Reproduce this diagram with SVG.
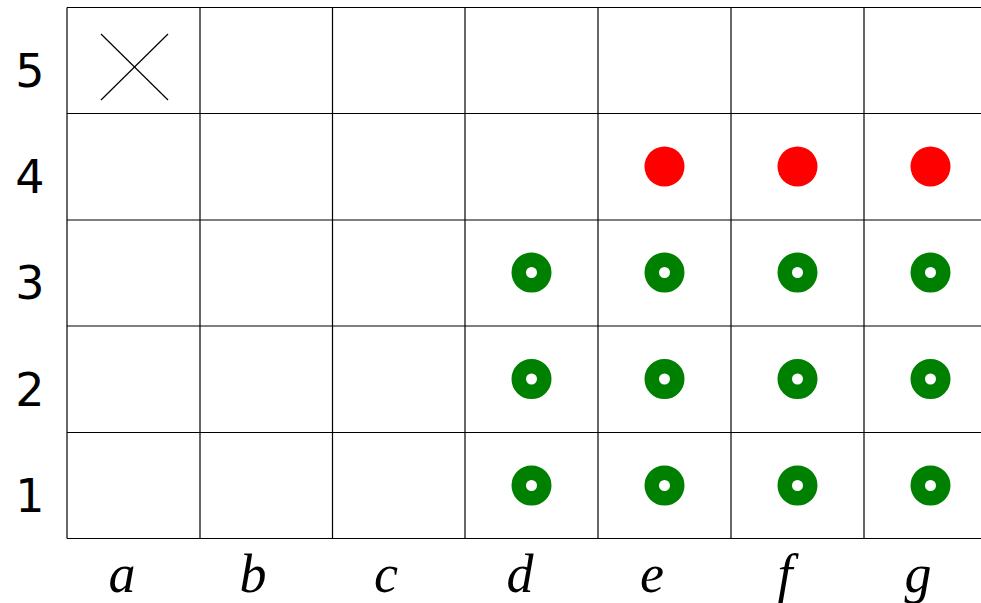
<svg xmlns="http://www.w3.org/2000/svg" width="981" height="603" viewBox="0 0 981 603">
<style>
.grid line{stroke:#000;stroke-width:1.2}
.num{font-family:"DejaVu Sans","Liberation Sans",sans-serif;font-size:46px;fill:#000;text-anchor:middle}
.col{font-family:"Liberation Serif",serif;font-style:italic;font-size:54px;fill:#000;text-anchor:middle}
.red{fill:#ff0000}
.ring{fill:none;stroke:#008000;stroke-width:14.5}
</style>
<rect width="981" height="603" fill="#fff"/>
<g id="grid" class="grid">
<line x1="67" y1="7.5" x2="981" y2="7.5"/>
<line x1="67" y1="113.5" x2="981" y2="113.5"/>
<line x1="67" y1="220" x2="981" y2="220"/>
<line x1="67" y1="326" x2="981" y2="326"/>
<line x1="67" y1="432.5" x2="981" y2="432.5"/>
<line x1="67" y1="538.5" x2="981" y2="538.5"/>
<line x1="67" y1="7.5" x2="67" y2="538.5"/>
<line x1="200" y1="7.5" x2="200" y2="538.5"/>
<line x1="332.5" y1="7.5" x2="332.5" y2="538.5"/>
<line x1="465" y1="7.5" x2="465" y2="538.5"/>
<line x1="598" y1="7.5" x2="598" y2="538.5"/>
<line x1="731" y1="7.5" x2="731" y2="538.5"/>
<line x1="864" y1="7.5" x2="864" y2="538.5"/>
</g>
<g id="row-labels">
<text class="num" x="30" y="87">5</text>
<text class="num" x="30" y="193">4</text>
<text class="num" x="30" y="299">3</text>
<text class="num" x="30" y="406">2</text>
<text class="num" x="30" y="512">1</text>
</g>
<g id="col-labels">
<text class="col" x="122" y="592">a</text>
<text class="col" x="253" y="592">b</text>
<text class="col" x="386" y="592">c</text>
<text class="col" x="520" y="592">d</text>
<text class="col" x="652" y="592">e</text>
<text class="col" x="785" y="592">f</text>
<text class="col" x="918" y="592">g</text>
</g>
<g id="cross-a5">
<line x1="101" y1="34" x2="168" y2="100" stroke="#000" stroke-width="1.2"/>
<line x1="168" y1="34" x2="101" y2="100" stroke="#000" stroke-width="1.2"/>
</g>
<g id="red-e4"><circle class="red" cx="664.5" cy="166.5" r="20"/></g>
<g id="red-f4"><circle class="red" cx="797.5" cy="166.5" r="20"/></g>
<g id="red-g4"><circle class="red" cx="930.5" cy="166.5" r="20"/></g>
<g id="green-d3"><circle class="ring" cx="531.5" cy="272.5" r="12.75"/></g>
<g id="green-e3"><circle class="ring" cx="664.5" cy="272.5" r="12.75"/></g>
<g id="green-f3"><circle class="ring" cx="797.5" cy="272.5" r="12.75"/></g>
<g id="green-g3"><circle class="ring" cx="930.5" cy="272.5" r="12.75"/></g>
<g id="green-d2"><circle class="ring" cx="531.5" cy="379" r="12.75"/></g>
<g id="green-e2"><circle class="ring" cx="664.5" cy="379" r="12.75"/></g>
<g id="green-f2"><circle class="ring" cx="797.5" cy="379" r="12.75"/></g>
<g id="green-g2"><circle class="ring" cx="930.5" cy="379" r="12.75"/></g>
<g id="green-d1"><circle class="ring" cx="531.5" cy="485.5" r="12.75"/></g>
<g id="green-e1"><circle class="ring" cx="664.5" cy="485.5" r="12.75"/></g>
<g id="green-f1"><circle class="ring" cx="797.5" cy="485.5" r="12.75"/></g>
<g id="green-g1"><circle class="ring" cx="930.5" cy="485.5" r="12.75"/></g>
</svg>
